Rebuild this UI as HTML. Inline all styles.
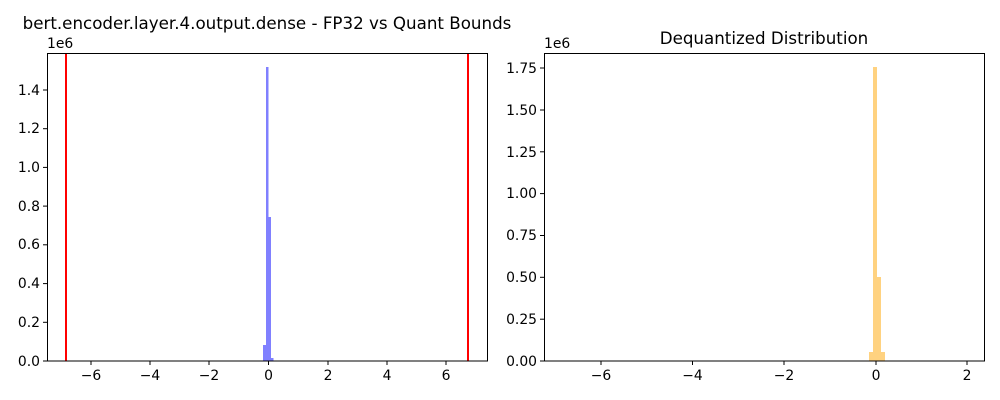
<!DOCTYPE html>
<html><head><style>body{margin:0;background:#fff}svg{display:block}text{font-family:"DejaVu Sans",sans-serif;font-size:13.9px;fill:#000}</style></head><body>
<svg width="1000" height="400" viewBox="0 0 1000 400">
<rect width="1000" height="400" fill="#fff"/>
<rect x="263" y="345" width="3" height="16" fill="#8080ff"/>
<rect x="266" y="67" width="2.5" height="294" fill="#8080ff"/>
<rect x="268.5" y="217" width="2.5" height="144" fill="#8080ff"/>
<rect x="271" y="358" width="2.5" height="3" fill="#8080ff"/>
<line x1="66" y1="53" x2="66" y2="361" stroke="#f00" stroke-width="2"/>
<line x1="468" y1="53" x2="468" y2="361" stroke="#f00" stroke-width="2"/>
<rect x="47.5" y="53.5" width="440" height="307.5" fill="none" stroke="#000" stroke-width="1"/>
<g stroke="#000">
<line x1="91" y1="361" x2="91" y2="365"/><line x1="150" y1="361" x2="150" y2="365"/><line x1="209" y1="361" x2="209" y2="365"/><line x1="268.5" y1="361" x2="268.5" y2="365"/><line x1="328" y1="361" x2="328" y2="365"/><line x1="387" y1="361" x2="387" y2="365"/><line x1="446" y1="361" x2="446" y2="365"/>
<line x1="43" y1="361" x2="47" y2="361"/><line x1="43" y1="322.3" x2="47" y2="322.3"/><line x1="43" y1="283.6" x2="47" y2="283.6"/><line x1="43" y1="244.8" x2="47" y2="244.8"/><line x1="43" y1="206.1" x2="47" y2="206.1"/><line x1="43" y1="167.4" x2="47" y2="167.4"/><line x1="43" y1="128.7" x2="47" y2="128.7"/><line x1="43" y1="90" x2="47" y2="90"/>
</g>
<g text-anchor="middle">
<text x="91" y="380">−6</text><text x="150" y="380">−4</text><text x="209" y="380">−2</text><text x="268.5" y="380">0</text><text x="328" y="380">2</text><text x="387" y="380">4</text><text x="446" y="380">6</text>
</g>
<g text-anchor="end">
<text x="40" y="366">0.0</text><text x="40" y="327">0.2</text><text x="40" y="288">0.4</text><text x="40" y="249">0.6</text><text x="40" y="211">0.8</text><text x="40" y="172">1.0</text><text x="40" y="133">1.2</text><text x="40" y="95">1.4</text>
</g>
<text x="47" y="48">1e6</text>
<text x="267" y="29" text-anchor="middle" style="font-size:16.7px">bert.encoder.layer.4.output.dense - FP32 vs Quant Bounds</text>
<rect x="869" y="352" width="4" height="9" fill="#ffd280"/>
<rect x="873" y="67" width="4" height="294" fill="#ffd280"/>
<rect x="877" y="277" width="4" height="84" fill="#ffd280"/>
<rect x="881" y="352" width="4" height="9" fill="#ffd280"/>
<rect x="544.5" y="53.5" width="440" height="307.5" fill="none" stroke="#000" stroke-width="1"/>
<g stroke="#000">
<line x1="601" y1="361" x2="601" y2="365"/><line x1="692.5" y1="361" x2="692.5" y2="365"/><line x1="784" y1="361" x2="784" y2="365"/><line x1="876" y1="361" x2="876" y2="365"/><line x1="967" y1="361" x2="967" y2="365"/>
<line x1="540" y1="361" x2="544" y2="361"/><line x1="540" y1="319.2" x2="544" y2="319.2"/><line x1="540" y1="277.3" x2="544" y2="277.3"/><line x1="540" y1="235.5" x2="544" y2="235.5"/><line x1="540" y1="193.6" x2="544" y2="193.6"/><line x1="540" y1="151.8" x2="544" y2="151.8"/><line x1="540" y1="110" x2="544" y2="110"/><line x1="540" y1="68" x2="544" y2="68"/>
</g>
<g text-anchor="middle">
<text x="601" y="380">−6</text><text x="692.5" y="380">−4</text><text x="784" y="380">−2</text><text x="876" y="380">0</text><text x="967" y="380">2</text>
</g>
<g text-anchor="end">
<text x="537" y="366">0.00</text><text x="537" y="324">0.25</text><text x="537" y="282">0.50</text><text x="537" y="240">0.75</text><text x="537" y="198">1.00</text><text x="537" y="157">1.25</text><text x="537" y="115">1.50</text><text x="537" y="73">1.75</text>
</g>
<text x="544" y="48">1e6</text>
<text x="764" y="44" text-anchor="middle" style="font-size:16.7px">Dequantized Distribution</text>
</svg>
</body></html>
